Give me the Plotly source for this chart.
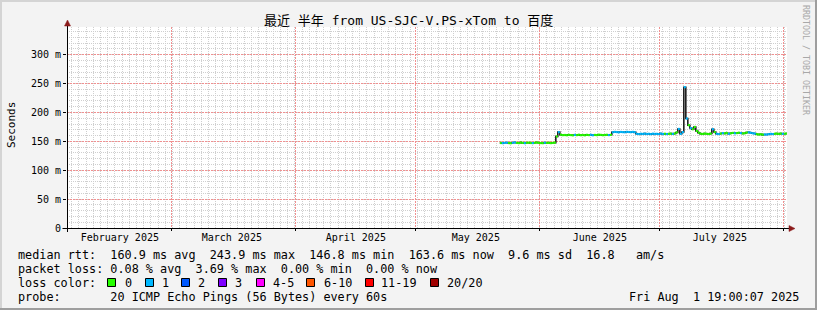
import plotly.graph_objects as go
import pandas as pd

# ---------------- data ----------------
range_start = "2025-02-02 19:00:07"
range_end = "2025-08-01 19:00:07"

sample_start = "2025-05-22 00:00"
n_samples = 144  # 12-hour samples

median_ms = [
    # May 22 - Jun 4
    147.2, 146.9, 147.5, 147.8, 147.1, 146.8, 147.6, 148.1, 147.4, 147.0, 147.9, 147.3, 146.9, 147.5,
    147.8, 147.2, 147.0, 147.6, 148.0, 147.4, 147.1, 146.9, 147.7, 147.3, 147.5, 147.0, 147.4, 147.8,
    # Jun 5 - Jun 6
    158.5, 166.0, 161.5, 160.8,
    # Jun 7 - Jun 18
    161.0, 160.6, 161.3, 160.9, 160.4, 161.2, 160.8, 161.5, 160.7, 161.0, 160.5, 161.3,
    160.9, 161.4, 160.6, 161.1, 160.8, 161.6, 161.2, 160.7, 161.0, 161.4, 160.9, 161.3,
    # Jun 19 - Jun 24
    165.8, 166.4, 166.1, 165.6, 166.3, 166.0, 165.7, 166.5, 166.2, 165.9, 166.4, 165.8,
    # Jun 25 - Jul 4
    163.0, 162.6, 163.2, 162.8, 163.4, 162.7, 163.1, 162.5, 163.3, 162.9,
    163.0, 162.6, 163.5, 162.8, 163.2, 162.7, 163.1, 163.4, 162.9, 163.6,
    # Jul 5 - Jul 10
    165.5, 171.5, 163.0, 166.0, 243.9, 189.5, 178.0, 173.0, 171.0, 175.0, 168.0, 165.0,
    # Jul 11 - Jul 13
    163.2, 162.8, 163.5, 163.0, 162.7, 163.4,
    # Jul 14
    171.0, 166.0,
    # Jul 15 - Aug 1
    163.1, 162.6, 163.5, 164.2, 163.8, 164.5, 163.2, 164.0, 164.6, 163.9, 164.3, 165.0,
    164.4, 163.7, 164.1, 165.2, 165.6, 164.8, 164.0, 163.5, 162.4, 161.9, 162.2, 161.6,
    162.0, 161.8, 162.5, 163.0, 162.6, 163.2, 163.4, 162.9, 163.6, 163.1, 163.3, 163.6,
]

loss_count = [
    0, 1, 1, 1, 0, 0, 1, 1, 0, 0, 0, 0, 1, 0,
    0, 0, 1, 0, 0, 0, 0, 0, 1, 0, 0, 0, 0, 0,
    0, 1, 0, 0,
    0, 0, 0, 0, 0, 1, 0, 0, 0, 0, 0, 0,
    0, 1, 1, 0, 0, 0, 0, 0, 0, 0, 1, 0,
    1, 1, 1, 1, 1, 1, 1, 1, 1, 1, 1, 1,
    1, 1, 1, 1, 1, 1, 1, 1, 1, 1,
    1, 1, 1, 1, 0, 1, 0, 0, 1, 0,
    0, 1, 1, 1, 1, 1, 0, 1, 0, 0, 0, 0,
    0, 0, 0, 0, 0, 0,
    1, 0,
    1, 1, 0, 1, 0, 0, 1, 0, 0, 1, 0, 0,
    1, 0, 0, 0, 1, 1, 1, 1, 0, 0, 0, 0,
    1, 1, 1, 1, 1, 0, 0, 0, 0, 1, 0, 0,
]

loss_labels = ["0", "1", "2", "3", "4-5", "6-10", "11-19", "20/20"]
loss_colors = ["#26ff00", "#00b8ff", "#0059ff", "#7e00ff", "#ff00ff", "#ff5500", "#ff0000", "#a00000"]

month_starts = ["2025-02-01", "2025-03-01", "2025-04-01", "2025-05-01", "2025-06-01", "2025-07-01", "2025-08-01"]
month_labels = ["February 2025", "March 2025", "April 2025", "May 2025", "June 2025", "July 2025"]
month_label_pos = ["2025-02-16", "2025-03-16", "2025-04-16", "2025-05-16", "2025-06-16", "2025-07-16"]

y_tick_vals = [0, 50, 100, 150, 200, 250, 300]
y_tick_text = ["0", "50 m", "100 m", "150 m", "200 m", "250 m", "300 m"]

title_text = "最近 半年 from US-SJC-V.PS-xTom to 百度"
stat_lines = [
    "median rtt:  160.9 ms avg  243.9 ms max  146.8 ms min  163.6 ms now  9.6 ms sd  16.8   am/s",
    "packet loss: 0.08 % avg  3.69 % max  0.00 % min  0.00 % now",
    "loss color:",
    "probe:       20 ICMP Echo Pings (56 Bytes) every 60s",
]
stamp_text = "Fri Aug  1 19:00:07 2025"

# ---------------- geometry ----------------
W, H = 817, 310
L, R, T, B = 67, 30, 27, 82
PW, PH = W - L - R, H - T - B
Y0 = H - B  # pixel row of value 0


def px(x):
    return (x - L) / PW


def py(y):
    return (Y0 - y) / PH


MONO = "DejaVu Sans Mono"


def nb(s):
    return s.replace(" ", "\u00a0")


times = list(pd.date_range(sample_start, periods=n_samples, freq="12h"))
edges = times + [pd.Timestamp(range_end)]

fig = go.Figure()

# dark step line (shows vertical transitions)
fig.add_trace(go.Scatter(
    x=edges, y=median_ms + [median_ms[-1]], mode="lines",
    line=dict(color="#111111", width=1.5, shape="hv"),
    hoverinfo="skip", showlegend=False))

# colored segments by loss
for code in sorted(set(loss_count)):
    xs, ys = [], []
    for i, (v, lc) in enumerate(zip(median_ms, loss_count)):
        if lc == code:
            xs += [edges[i], edges[i + 1], None]
            ys += [v, v, None]
    fig.add_trace(go.Scatter(
        x=xs, y=ys, mode="lines",
        line=dict(color=loss_colors[code], width=2.2),
        hoverinfo="skip", showlegend=False))

# invisible traces on the overlay axes
for ax in ("x2", "x3"):
    fig.add_trace(go.Scatter(x=[range_start, range_end], y=[None, None], xaxis=ax,
                             mode="lines", showlegend=False, hoverinfo="skip"))

MAJ = "#f09090"
MIN = "#cfcfcf"

fig.update_layout(
    width=W, height=H,
    margin=dict(l=L, r=R, t=T, b=B, pad=0),
    paper_bgcolor="#f3f3f3", plot_bgcolor="#ffffff",
    showlegend=False,
    font=dict(family=MONO, size=10, color="#000000"),
    # minor vertical grid
    xaxis=dict(
        type="date", range=[range_start, range_end],
        dtick=1.8 * 86400000, tick0="2025-02-03 23:00",
        showticklabels=False, showgrid=True, gridcolor=MIN, griddash="1px,1px", gridwidth=1,
        ticks="", zeroline=False, showline=False, fixedrange=True,
    ),
    # month labels
    xaxis2=dict(
        type="date", range=[range_start, range_end], overlaying="x", anchor="y", side="bottom",
        tickmode="array", tickvals=month_label_pos, ticktext=month_labels,
        showgrid=False, ticks="", ticklabelstandoff=2,
        tickfont=dict(family=MONO, size=10, color="#000000"),
        zeroline=False, showline=False,
    ),
    # month boundaries (major grid)
    xaxis3=dict(
        type="date", range=[range_start, range_end], overlaying="x", anchor="y", side="bottom",
        tickmode="array", tickvals=month_starts, showticklabels=False,
        showgrid=True, gridcolor=MAJ, griddash="2px,1px", gridwidth=1,
        ticks="outside", ticklen=2, tickcolor="#000000",
        zeroline=False, showline=False,
    ),
    yaxis=dict(
        range=[0, 348], tickmode="array", tickvals=y_tick_vals, ticktext=y_tick_text,
        showgrid=True, gridcolor=MAJ, griddash="2px,1px", gridwidth=1,
        minor=dict(dtick=10, tick0=0, showgrid=True, gridcolor=MIN, griddash="1px,1px", gridwidth=1),
        ticks="outside", ticklen=3, tickcolor="#000000",
        tickfont=dict(family=MONO, size=10, color="#000000"),
        zeroline=False, showline=False, fixedrange=True,
    ),
)

shapes = []
# outer border
shapes.append(dict(type="rect", xref="paper", yref="paper", x0=px(0), x1=px(W), y0=py(0), y1=py(2),
                   fillcolor="#d4d4d4", line=dict(width=0), layer="below"))
shapes.append(dict(type="rect", xref="paper", yref="paper", x0=px(0), x1=px(2), y0=py(0), y1=py(H),
                   fillcolor="#d4d4d4", line=dict(width=0), layer="below"))
shapes.append(dict(type="rect", xref="paper", yref="paper", x0=px(0), x1=px(W), y0=py(H - 2), y1=py(H),
                   fillcolor="#9e9e9e", line=dict(width=0), layer="below"))
shapes.append(dict(type="rect", xref="paper", yref="paper", x0=px(W - 2), x1=px(W), y0=py(0), y1=py(H),
                   fillcolor="#9e9e9e", line=dict(width=0), layer="below"))
# axis lines
shapes.append(dict(type="line", xref="paper", yref="paper", x0=px(62.5), x1=px(790), y0=py(228.5), y1=py(228.5),
                   line=dict(color="#000000", width=1)))
shapes.append(dict(type="line", xref="paper", yref="paper", x0=px(67.5), x1=px(67.5), y0=py(232), y1=py(24),
                   line=dict(color="#000000", width=1)))
# arrows
ARW = "#8b1a1a"
shapes.append(dict(type="path", xref="paper", yref="paper",
                   path=f"M {px(789)},{py(225.5)} L {px(795)},{py(228.5)} L {px(789)},{py(231.5)} Z",
                   fillcolor=ARW, line=dict(color=ARW, width=0.5)))
shapes.append(dict(type="path", xref="paper", yref="paper",
                   path=f"M {px(64.5)},{py(26)} L {px(67.5)},{py(20)} L {px(70.5)},{py(26)} Z",
                   fillcolor=ARW, line=dict(color=ARW, width=0.5)))

# loss colour boxes
box_left = [107, 145, 181, 218, 256, 306, 365, 430]
label_left = [123, 160, 196, 233, 271, 322, 379, 445]
for bl, col in zip(box_left, loss_colors):
    shapes.append(dict(type="rect", xref="paper", yref="paper",
                       x0=px(bl + 0.5), x1=px(bl + 8.5), y0=py(278.5), y1=py(286.5),
                       fillcolor=col, line=dict(color="#000000", width=1)))
fig.update_layout(shapes=shapes)

ann = []
ann.append(dict(text=title_text, x=px(408), y=py(21), xref="paper", yref="paper",
                xanchor="center", yanchor="middle", showarrow=False,
                font=dict(family=MONO + ", Noto Sans CJK SC", size=13, color="#000000")))
ann.append(dict(text="Seconds", x=px(11), y=py(125), xref="paper", yref="paper",
                xanchor="center", yanchor="middle", showarrow=False, textangle=-90,
                font=dict(family=MONO, size=11, color="#000000")))
ann.append(dict(text=nb("RRDTOOL / TOBI OETIKER"), x=px(806), y=py(60), xref="paper", yref="paper",
                xanchor="center", yanchor="middle", showarrow=False, textangle=90,
                font=dict(family=MONO, size=8.3, color="#a8a8a8")))
row_y = [254.5, 268.5, 282.5, 296.5]
for s, ry in zip(stat_lines, row_y):
    ann.append(dict(text=nb(s), x=px(16), y=py(ry), xref="paper", yref="paper",
                    xanchor="left", yanchor="middle", showarrow=False,
                    font=dict(family=MONO, size=11.8, color="#000000")))
for lab, ll in zip(loss_labels, label_left):
    ann.append(dict(text=lab, x=px(ll), y=py(282.5), xref="paper", yref="paper",
                    xanchor="left", yanchor="middle", showarrow=False,
                    font=dict(family=MONO, size=11.8, color="#000000")))
ann.append(dict(text=nb(stamp_text), x=px(801), y=py(296.5), xref="paper", yref="paper",
                xanchor="right", yanchor="middle", showarrow=False,
                font=dict(family=MONO, size=11.8, color="#000000")))
fig.update_layout(annotations=ann)

fig.write_html("out.html")
